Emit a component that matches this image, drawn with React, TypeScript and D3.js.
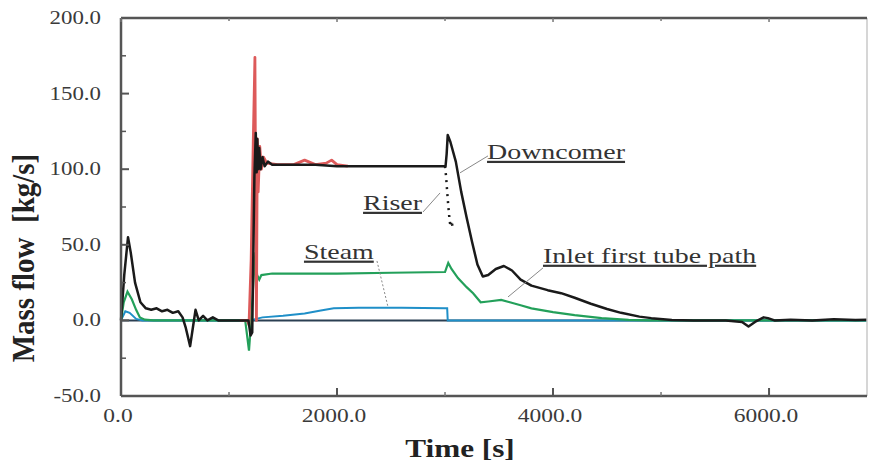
import React from "react";
import * as d3 from "d3";

const W = 870;
const H = 468;
const margin = { top: 18, right: 3, bottom: 72, left: 121 };
const font = "'Liberation Serif', 'Times New Roman', serif";
const SX = 1.27; // the source figure is stretched sideways

// [time s, mass flow kg/s]
const downcomer: [number, number][] = [
  [0, 0], [30, 30], [65, 55], [90, 45], [130, 25], [180, 12], [230, 8], [280, 7],
  [330, 8], [380, 6], [430, 7], [480, 5], [530, 6], [570, 2], [600, -5], [640, -17],
  [665, -5], [690, 7], [720, 0], [760, 3], [800, 0], [850, 2], [900, 0], [1180, 0],
  [1200, -10], [1215, -8], [1235, 95], [1248, 124], [1256, 98], [1262, 120], [1270, 100],
  [1280, 114], [1292, 100], [1310, 108], [1330, 102], [1360, 105], [1400, 103],
  [1600, 103], [1800, 103], [2000, 102], [2500, 102], [3005, 102], [3015, 110],
  [3025, 122.6], [3050, 118], [3100, 105], [3150, 85], [3200, 68], [3250, 52],
  [3300, 37], [3350, 29], [3400, 30], [3470, 34], [3545, 36], [3620, 33], [3700, 27],
  [3800, 23], [3950, 20], [4075, 18], [4200, 15], [4350, 11], [4500, 7.5], [4630, 5],
  [4800, 2.5], [4910, 1.5], [5100, 0.3], [5300, 0], [5600, 0], [5750, -1], [5810, -4],
  [5870, -1], [5950, 2], [5990, 1.5], [6050, 0], [6200, 0.5], [6400, 0], [6600, 0.8],
  [6800, 0.3], [6907, 0.5],
];

const riser: [number, number][] = [
  [3000, 102], [3010, 95], [3020, 85], [3030, 76], [3040, 68], [3050, 62],
  [3060, 66], [3075, 60],
];

const red: [number, number][] = [
  [1100, 0], [1170, 0], [1185, -3], [1205, 40], [1225, 120], [1240, 174], [1248, 60],
  [1254, 0], [1262, 120], [1270, 85], [1285, 115], [1300, 100], [1320, 108], [1350, 104],
  [1450, 103], [1600, 103], [1700, 106], [1800, 103], [1900, 104], [1950, 106],
  [2000, 103], [2100, 102],
];

const inlet: [number, number][] = [
  [0, 0], [25, 12], [60, 19], [100, 14], [140, 7], [175, 2], [220, 0.5], [300, 0],
  [1150, 0], [1185, -20], [1200, -5], [1230, 30], [1245, 45], [1260, 30], [1280, 27],
  [1300, 30], [1400, 31], [2000, 31], [2500, 31.5], [3000, 32], [3015, 35], [3030, 38],
  [3060, 34], [3120, 28], [3200, 22], [3260, 18], [3330, 12], [3400, 12.5], [3520, 13.5],
  [3600, 12], [3700, 10], [3800, 8], [4000, 5.5], [4200, 3.5], [4450, 1.5], [4700, 0.3],
  [4900, 0], [6907, 0],
];

const steam: [number, number][] = [
  [0, 0], [40, 6], [80, 5], [140, 1], [200, 0], [1200, 0], [1250, 1], [1310, 2],
  [1500, 3], [1700, 4.5], [1850, 6.5], [1970, 8], [2200, 8.3], [2600, 8.3], [3000, 8],
  [3020, 8], [3025, 0], [6907, 0],
];

const yTicks = [-50, 0, 50, 100, 150, 200];
const yMinor = [-25, 25, 75, 125, 175];
const xTicks = [0, 2000, 4000, 6000];
const xMinor = [1000, 3000, 5000];

// label, text anchor [t, v], leader from [t, v] to [t, v]
const notes: { label: string; at: [number, number]; from: [number, number]; to: [number, number]; dotted?: boolean }[] = [
  { label: "Downcomer", at: [3389, 106.7], from: [3398, 108.8], to: [3139, 97.6] },
  { label: "Riser", at: [2241, 73], from: [2796, 71.7], to: [2954, 84.3] },
  { label: "Steam", at: [1694, 40.7], from: [2370, 39.3], to: [2472, 8.9], dotted: true },
  { label: "Inlet first tube path", at: [3907, 38], from: [3907, 34.7], to: [3583, 15.5] },
];

const App = () => {
  const x = d3.scaleLinear().domain([0, 6907]).range([margin.left, W - margin.right]);
  const y = d3.scaleLinear().domain([-50, 200]).range([H - margin.bottom, margin.top]);
  const line = d3.line<[number, number]>().x((d) => x(d[0])).y((d) => y(d[1]));

  const x0 = margin.left, x1 = W - margin.right, y0 = margin.top, y1 = H - margin.bottom;

  return (
    <svg width={W} height={H} style={{ position: "absolute", left: 0, top: 0, background: "#fff" }}>
      {/* zero line */}
      <line x1={x0} x2={x1} y1={y(0)} y2={y(0)} stroke="#2b3f52" strokeWidth={2} />

      <path d={line(steam) || ""} fill="none" stroke="#1f8fc8" strokeWidth={2} />
      <path d={line(inlet) || ""} fill="none" stroke="#23a05a" strokeWidth={2.2} />
      <path d={line(red) || ""} fill="none" stroke="#dd5a5a" strokeWidth={2.8} strokeLinejoin="round" />
      <path d={line(downcomer) || ""} fill="none" stroke="#1a1a1a" strokeWidth={2.5} strokeLinejoin="round" />
      <path d={line(riser) || ""} fill="none" stroke="#1a1a1a" strokeWidth={2.5} strokeDasharray="2,5" />

      {/* frame */}
      <line x1={x1} x2={x1} y1={y0} y2={y1} stroke="#c8c8c8" strokeWidth={1.5} />
      <line x1={x0} x2={x1} y1={y0} y2={y0} stroke="#555" strokeWidth={2.5} />
      <line x1={x0} x2={x1} y1={y1} y2={y1} stroke="#555" strokeWidth={2.5} />
      <line x1={x0} x2={x0} y1={y0} y2={y1} stroke="#555" strokeWidth={2.5} />

      {yTicks.map((t) => (
        <g key={"y" + t}>
          <line x1={x0} x2={x0 + 8} y1={y(t)} y2={y(t)} stroke="#555" strokeWidth={2} />
          <text transform={`translate(${x0 - 20},${y(t) + 6}) scale(${SX},1)`} textAnchor="end"
            fontFamily={font} fontSize={18} fill="#3a3a3a">{t.toFixed(1)}</text>
        </g>
      ))}
      {yMinor.map((t) => (
        <line key={"ym" + t} x1={x0} x2={x0 + 5} y1={y(t)} y2={y(t)} stroke="#555" strokeWidth={1.5} />
      ))}
      {xTicks.map((t) => (
        <g key={"x" + t}>
          <line x1={x(t)} x2={x(t)} y1={y1} y2={y1 - 8} stroke="#555" strokeWidth={2} />
          <line x1={x(t)} x2={x(t)} y1={y0} y2={y0 + 4} stroke="#777" strokeWidth={1.5} />
          <text transform={`translate(${x(t) - 3},${y1 + 26}) scale(${SX},1)`} textAnchor="middle"
            fontFamily={font} fontSize={18.5} fill="#3a3a3a">{t.toFixed(1)}</text>
        </g>
      ))}
      {xMinor.map((t) => (
        <g key={"xm" + t}>
          <line x1={x(t)} x2={x(t)} y1={y1} y2={y1 - 4} stroke="#777" strokeWidth={1.5} />
          <line x1={x(t)} x2={x(t)} y1={y0} y2={y0 + 3} stroke="#777" strokeWidth={1.5} />
        </g>
      ))}

      {/* axis titles */}
      <text transform={`translate(${460},${457}) scale(1.2,1)`} textAnchor="middle"
        fontFamily={font} fontSize={26} fontWeight="bold" fill="#222">Time [s]</text>
      <text transform={`translate(${34},${258}) scale(1.1,1) rotate(-90)`} textAnchor="middle"
        fontFamily={font} fontSize={29} fontWeight="bold" fill="#222" xmlSpace="preserve">Mass flow  [kg/s]</text>

      {/* annotations */}
      {notes.map((n) => (
        <g key={n.label}>
          <line x1={x(n.from[0])} y1={y(n.from[1])} x2={x(n.to[0])} y2={y(n.to[1])}
            stroke="#888" strokeWidth={1} strokeDasharray={n.dotted ? "2,2" : undefined} />
          <text transform={`translate(${x(n.at[0])},${y(n.at[1])}) scale(${SX},1)`}
            fontFamily={font} fontSize={22} fill="#333" style={{ textDecoration: "underline" }}>{n.label}</text>
        </g>
      ))}
    </svg>
  );
};

export default App;
